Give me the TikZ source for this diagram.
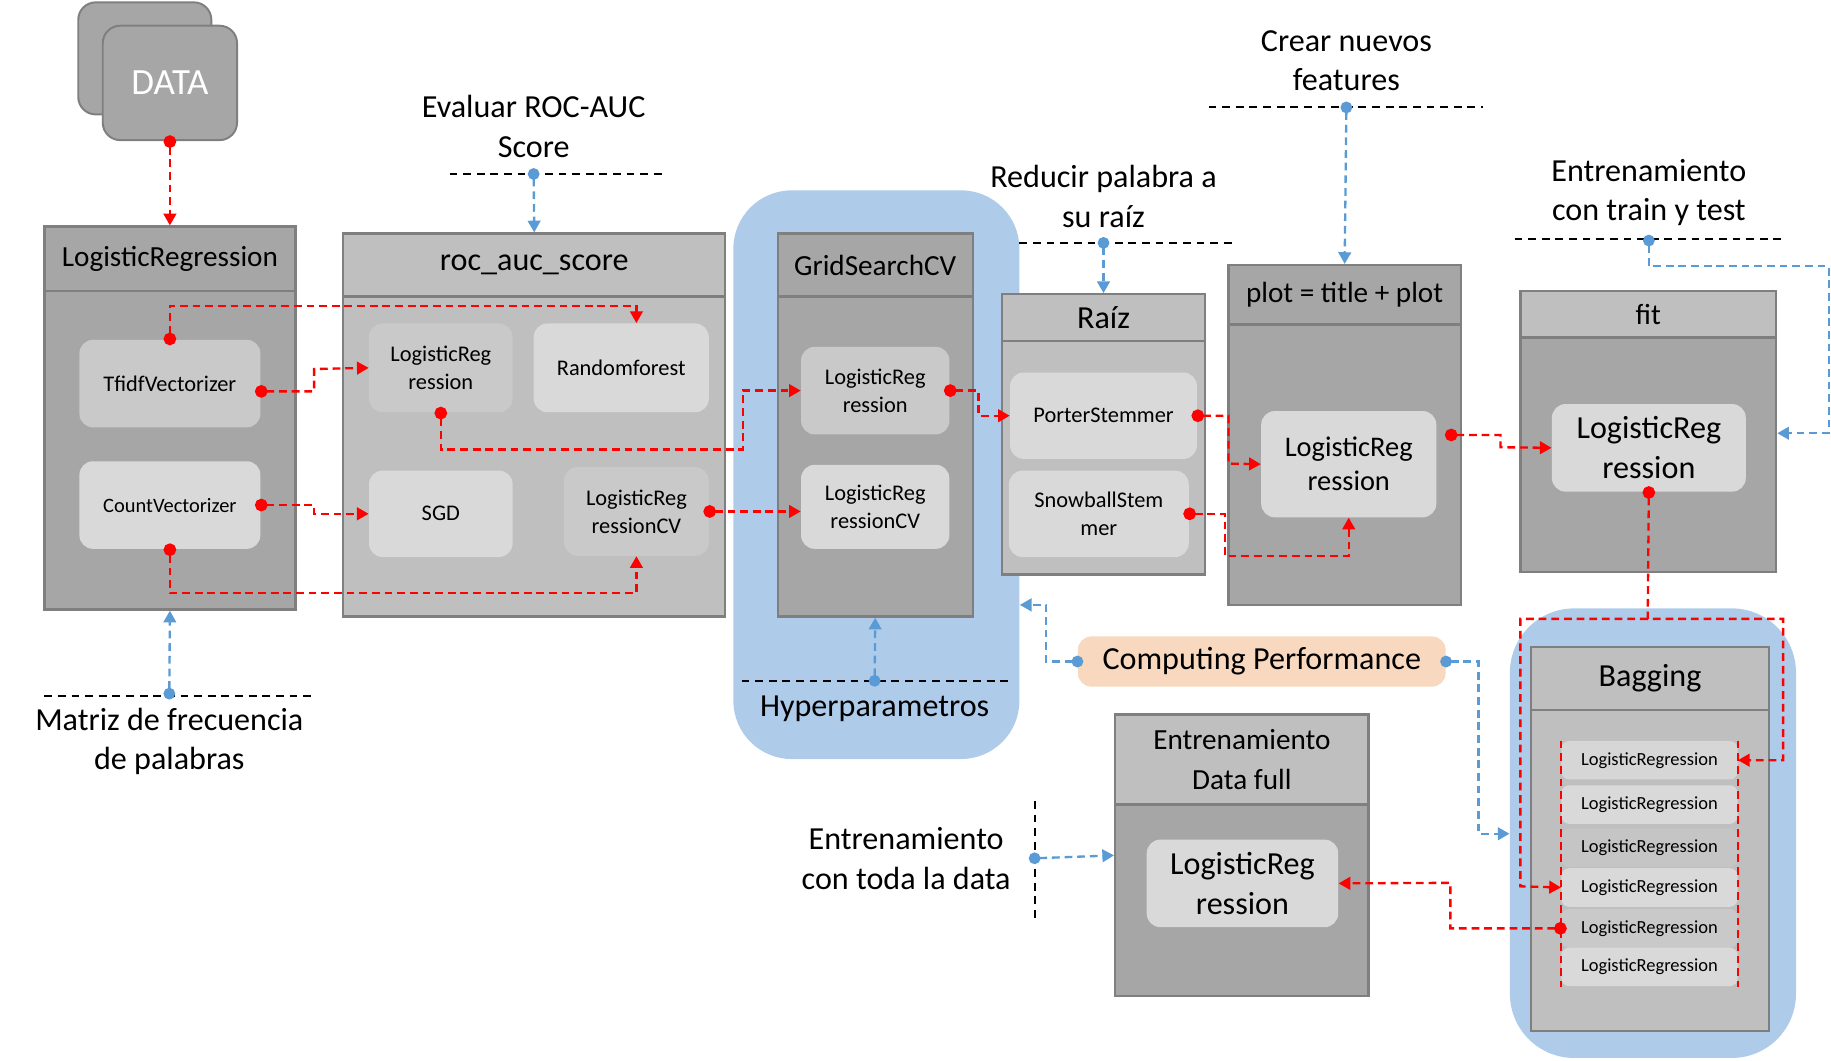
\documentclass[tikz,border=0pt]{standalone}
\usepackage{fontspec}
\setmainfont{Carlito}
\usepackage{xcolor}
\usepackage{tikz}
\usetikzlibrary{positioning,arrows.meta,fit}

\definecolor{boxdark}{HTML}{A6A6A6}
\definecolor{boxlight}{HTML}{BFBFBF}
\definecolor{boxline}{HTML}{7F7F7F}
\definecolor{inmid}{HTML}{C9C9C9}
\definecolor{inpale}{HTML}{D9D9D9}
\definecolor{hypblue}{RGB}{174,204,234}
\definecolor{peach}{RGB}{248,216,190}
\definecolor{linkblue}{HTML}{5B9BD5}

\begin{document}
\begin{tikzpicture}[x=0.6pt, y=-0.6pt,
  panel/.style={draw=boxline, line width=1.2pt, inner sep=0pt},
  inbox/.style={rounded corners=7pt, inner sep=0pt},
  txt/.style={align=center, inner sep=0pt, font=\fontsize{11.5}{14.4}\selectfont},
  hfont/.style={align=center, inner sep=0pt, font=\fontsize{15}{20.4}\selectfont},
  bigfont/.style={align=center, inner sep=0pt, font=\fontsize{16.5}{20.4}\selectfont},
  notetxt/.style={align=center, font=\fontsize{16.5}{20.4}\selectfont},
  sepline/.style={black, line width=1pt, dash pattern=on 4pt off 3pt},
  rlink/.style={red, line width=1.2pt, dash pattern=on 4pt off 2.5pt, shorten <=-3pt,
    {Circle[length=6.5pt]}-{Triangle[length=6pt,width=6.5pt]}},
  rlinkn/.style={red, line width=1.2pt, dash pattern=on 4pt off 2.5pt, -{Triangle[length=6pt,width=6.5pt]}},
  rside/.style={red, line width=1pt, dash pattern=on 4pt off 2.5pt},
  blink/.style={linkblue, line width=1.2pt, dash pattern=on 4pt off 2.5pt, shorten <=-3pt,
    {Circle[length=6pt]}-{Triangle[length=6pt,width=6.5pt]}}
]
\useasboundingbox (0,0) rectangle (1568,908);

\node[fill=hypblue, rounded corners=30pt, inner sep=0pt, fit={(628,163) (873,650)}] (hyp) {};
\node[fill=hypblue, rounded corners=33pt, inner sep=0pt, fit={(1293,521) (1538,906)}] (bagreg) {};

\node[panel, fill=boxdark, rounded corners=9pt, line width=1pt, fit={(67,2) (181,98)}] (databack) {};
\node[panel, fill=boxdark, rounded corners=9pt, line width=1pt, fit={(88,22) (203,120)}] (data) {};
\node[txt, text=white, font=\fontsize{19}{22}\selectfont] (datatxt) at (data) {DATA};

\node[panel, fill=boxdark, fit={(38,194) (253,522)}] (lrbox) {};
\node[panel, fill=boxdark, fit={(38,194) (253,249)}] (lrhead) {};
\node[hfont] (lrtitle) at (lrhead) {LogisticRegression};
\node[inbox, fill=inmid, fit={(68,291) (223,366)}] (tfidf) {};
\node[txt] (tfidftxt) at (tfidf) {TfidfVectorizer};
\node[inbox, fill=inpale, fit={(68,395) (223,470)}] (countv) {};
\node[txt, font=\fontsize{10.5}{13}\selectfont] (countvtxt) at (countv) {CountVectorizer};

\node[panel, fill=boxlight, fit={(294,200) (621,528)}] (rocbox) {};
\node[panel, fill=boxlight, fit={(294,200) (621,254)}] (rochead) {};
\node[bigfont] (roctitle) at (rochead) {roc\_auc\_score};
\node[inbox, fill=inmid, fit={(316,277) (439,353)}] (roclr) {};
\node[txt] (roclrtxt) at (roclr) {LogisticReg\\ression};
\node[inbox, fill=inpale, fit={(457,277) (607,353)}] (rf) {};
\node[txt] (rftxt) at (rf) {Randomforest};
\node[inbox, fill=inpale, fit={(316,403) (439,477)}] (sgd) {};
\node[txt] (sgdtxt) at (sgd) {SGD};
\node[inbox, fill=inmid, fit={(483,400) (607,476)}] (roclrcv) {};
\node[txt] (roclrcvtxt) at (roclrcv) {LogisticReg\\ressionCV};

\node[panel, fill=boxdark, fit={(666,200) (833,528)}] (gsbox) {};
\node[panel, fill=boxdark, fit={(666,200) (833,254)}] (gshead) {};
\node[hfont] (gstitle) at (gshead) {GridSearchCV};
\node[inbox, fill=inmid, fit={(686,297) (813,372)}] (gslr) {};
\node[txt] (gslrtxt) at (gslr) {LogisticReg\\ression};
\node[inbox, fill=inpale, fit={(686,398) (813,470)}] (gslrcv) {};
\node[txt] (gslrcvtxt) at (gslrcv) {LogisticReg\\ressionCV};

\node[panel, fill=boxlight, fit={(858,252) (1032,492)}] (raizbox) {};
\node[panel, fill=boxlight, fit={(858,252) (1032,292)}] (raizhead) {};
\node[bigfont] (raiztitle) at (raizhead) {Raíz};
\node[inbox, fill=inpale, fit={(865,319) (1025,393)}] (porter) {};
\node[txt] (portertxt) at (porter) {PorterStemmer};
\node[inbox, fill=inpale, fit={(864,403) (1018,477)}] (snowball) {};
\node[txt] (snowballtxt) at (snowball) {SnowballStem\\mer};

\node[panel, fill=boxdark, fit={(1052,227) (1251,518)}] (plotbox) {};
\node[panel, fill=boxdark, fit={(1052,227) (1251,278)}] (plothead) {};
\node[hfont] (plottitle) at (plothead) {plot = title + plot};
\node[inbox, fill=inpale, fit={(1080,352) (1230,443)}] (plotlr) {};
\node[txt, font=\fontsize{14.6}{17.4}\selectfont] (plotlrtxt) at (plotlr) {LogisticReg\\ression};

\node[panel, fill=boxdark, fit={(1302,249) (1521,490)}] (fitbox) {};
\node[panel, fill=boxlight, fit={(1302,249) (1521,289)}] (fithead) {};
\node[hfont] (fittitle) at (fithead) {fit};
\node[inbox, fill=inpale, fit={(1329,346) (1495,421)}] (fitlr) {};
\node[bigfont] (fitlrtxt) at (fitlr) {LogisticReg\\ression};

\node[panel, fill=boxlight, fit={(1311,554) (1515,883)}] (bagbox) {};
\node[panel, fill=boxlight, fit={(1311,554) (1515,608)}] (baghead) {};
\node[bigfont] (bagtitle) at (baghead) {Bagging};
\foreach \i/\yc/\fc in {1/651/inpale!80!inmid, 2/689/inpale, 3/726/inmid!60!boxlight, 4/760/inpale, 5/795/inmid, 6/828/inpale}
  \node[inbox, rounded corners=4pt, fill=\fc, minimum width=90.6pt, minimum height=19.8pt, font=\fontsize{9.5}{11}\selectfont] (bag\i) at (1412.5,\yc) {LogisticRegression};

\node[panel, fill=boxdark, fit={(955,612) (1172,853)}] (edfbox) {};
\node[panel, fill=boxlight, fit={(955,612) (1172,689)}] (edfhead) {};
\node[hfont] (edftitle) at (edfhead) {Entrenamiento\\Data full};
\node[inbox, fill=inpale, fit={(982,719) (1146,794)}] (edflr) {};
\node[bigfont] (edflrtxt) at (edflr) {LogisticReg\\ression};

\node[fill=peach, rounded corners=7pt, inner sep=0pt, fit={(923,545) (1238,588)}] (cperf) {};
\node[bigfont] (cperftxt) at (cperf) {Computing Performance};

\node[notetxt] (matriz) at (145,635) {Matriz de frecuencia\\de palabras};
\node[notetxt] (evalroc) at (457,108) {Evaluar ROC-AUC\\Score};
\node[notetxt] (reducir) at (945,168) {Reducir palabra a\\su raíz};
\node[notetxt] (crear) at (1153,52) {Crear nuevos\\features};
\node[notetxt] (entrtt) at (1412,165) {Entrenamiento\\con train y test};
\node[notetxt] (entrfull) at (776,735) {Entrenamiento\\con toda la data};
\node[notetxt] (hyptxt) at (749,607) {Hyperparametros};

\draw[sepline] (38,596) -- (268,596);
\draw[sepline] (385,149) -- (570,149);
\draw[sepline] (635,583) -- (866,583);
\draw[sepline] (873,208) -- (1058,208);
\draw[sepline] (1035,92) -- (1270,92);
\draw[sepline] (1297,205) -- (1530,205);
\draw[sepline] (886,686) -- (886,788);

\coordinate (matrizdot) at (145,594);
\coordinate (evaldot) at (457,149);
\coordinate (hypdot) at (749,583);
\coordinate (reducirdot) at (945,208);
\coordinate (creardot) at (1153,92);
\coordinate (ttdot) at (1412,206);
\coordinate (fulldot) at (886,735);
\coordinate (fitsplit) at (1411,530);

\draw[rlink] (data.south) -- (lrbox.north);
\draw[rlink] (tfidf.north) |- (545,262) -- (rf.north -| roclrcv.north);
\draw[rlink] ([yshift=-4pt]tfidf.east) -| (269,316) -- (roclr.west);
\draw[rlink] (countv.east) -| (269,440) -- (sgd.west);
\draw[rlink] (countv.south) |- (545,508) -- (roclrcv.south);
\draw[rlink] (roclr.south) |- (636,385) |- (gslr.west);
\draw[rlink] (roclrcv.east) -- (roclrcv.east -| gslrcv.west);
\draw[rlink] (gslr.east) -| (838,356) -- (porter.west);
\draw[rlink] (porter.east) -| (1052,397) -- (plotlr.west);
\draw[rlink] (snowball.east) -| (1049,476) -| (plotlr.south);
\draw[rlink] ([shift={(12,-25)}]plotlr.east) -| (1285,383) -- (fitlr.west);
\draw[rlink] (fitlr.south) -- (fitsplit) -| (1527,651) -- (bag1.east);
\draw[rlinkn] (fitsplit) -| (1302,759) -- (bag4.west);
\draw[rlink] (bag5.west) -| (1242,756) -- (edflr.east);
\draw[rside] (bag1.north west) -- (bag6.south west);
\draw[rside] (bag1.north east) -- (bag6.south east);

\draw[blink] (matrizdot) -- (lrbox.south);
\draw[blink] (evaldot) -- (rocbox.north);
\draw[blink] (hypdot) -- (gsbox.south);
\draw[blink] (reducirdot) -- (raizbox.north);
\draw[blink] (creardot) -- (plotbox.north);
\draw[blink] (ttdot) -- (1412,228) -| (1566,371) -- (fitbox.east |- 1566,371);
\draw[blink] (fulldot) -- (edfbox.west);
\draw[blink] (cperf.west) -| (896,518) -- (hyp.east |- 896,518);
\draw[blink] (cperf.east) -| (1266,714) -- (bagreg.west |- 1266,714);

\end{tikzpicture}
\end{document}
